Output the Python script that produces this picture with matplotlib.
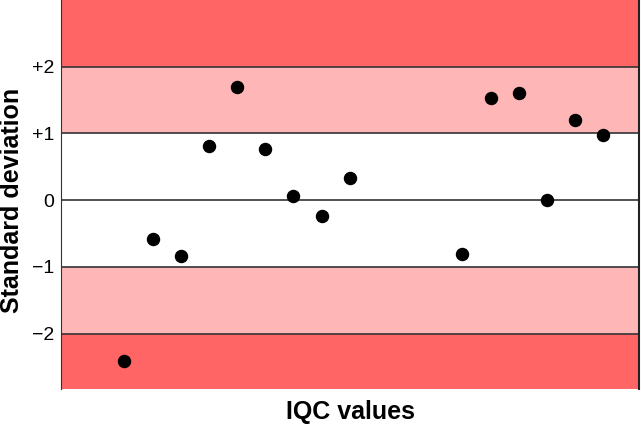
import matplotlib
matplotlib.use('Agg')
import matplotlib.pyplot as plt

# IQC control chart data (run index, standard deviation score)
run_index = [1, 2, 3, 4, 5, 6, 7, 8, 9, 13, 14, 15, 16, 17, 18]
sd_score = [-2.41, -0.58, -0.83, 0.81, 1.70, 0.77, 0.07, -0.24, 0.33,
            -0.80, 1.53, 1.60, 0.00, 1.20, 0.97]

tick_values = [-2, -1, 0, 1, 2]
tick_labels = ['\u22122', '\u22121', '0', '+1', '+2']

DARK_RED = '#ff6565'
LIGHT_RED = '#ffb6b6'
LINE_COLOR = '#333333'

plt.rcParams['font.family'] = ['Liberation Sans', 'DejaVu Sans']

fig = plt.figure(figsize=(6.41, 4.28), dpi=100)
ax = fig.add_axes([0.0952, 0.0911, 0.9017, 0.9089])

ymin, ymax = -2.83, 3.0
ax.axhspan(2, ymax, color=DARK_RED, lw=0, zorder=0)
ax.axhspan(1, 2, color=LIGHT_RED, lw=0, zorder=0)
ax.axhspan(-2, -1, color=LIGHT_RED, lw=0, zorder=0)
ax.axhspan(ymin, -2, color=DARK_RED, lw=0, zorder=0)
for v in tick_values:
    ax.axhline(v, color=LINE_COLOR, lw=1.2, zorder=1)

ax.scatter(run_index, sd_score, s=75, color='black', zorder=3)

ax.set_xlim(-1.25, 19.27)
ax.set_ylim(ymin, ymax)
ax.set_xticks([])
ax.set_yticks(tick_values)
ax.set_yticklabels(tick_labels)
ax.tick_params(axis='y', length=0, pad=5, labelsize=14)

ax.spines['top'].set_visible(False)
ax.spines['bottom'].set_visible(False)
ax.spines['left'].set_color(LINE_COLOR)
ax.spines['right'].set_color('#222222')
ax.spines['right'].set_linewidth(1.5)

ax.set_ylabel('Standard deviation', fontsize=18, fontweight='bold')
ax.yaxis.set_label_coords(-0.064, 0.486)
ax.set_xlabel('IQC values', fontsize=18, fontweight='bold', labelpad=8)

fig.savefig('out.png', dpi=100)
